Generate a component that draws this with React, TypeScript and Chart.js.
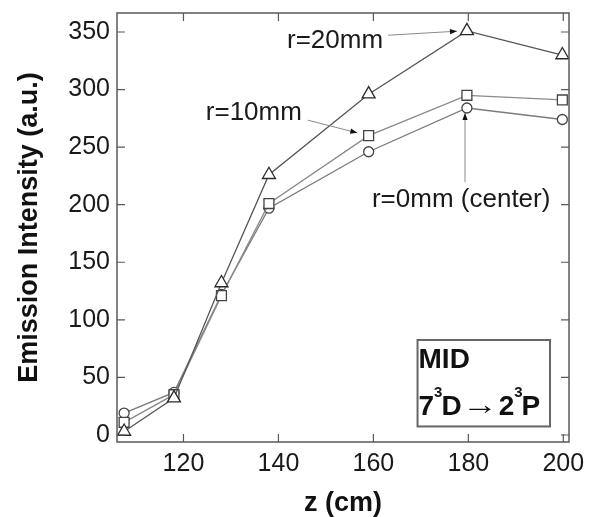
import React, { useEffect, useRef } from 'react';
import { Chart, registerables } from 'chart.js';

Chart.register(...registerables);

// ---- data ----
const zPositions = [107.5, 118, 128, 138, 159, 179.7, 199.8];
const r20Values = [3, 32, 132, 226, 296, 351, 330];
const r10Values = [11, 35, 121, 201, 260, 295, 291];
const r0Values = [19, 37, 122, 197, 246, 284, 274];
const xTickValues = [120, 140, 160, 180, 200];
const yTickValues = [0, 50, 100, 150, 200, 250, 300, 350];
const seriesLabels = ['r=20mm', 'r=10mm', 'r=0mm (center)'];
const xTitle = 'z (cm)';
const yTitle = 'Emission Intensity (a.u.)';
const boxTitle = 'MID';
// transition line: 7^3D -> 2^3P  as [text, kind]
const boxLine: [string, 'n' | 's' | 'a'][] = [
  ['7', 'n'],
  ['3', 's'],
  ['D', 'n'],
  ['\u2192', 'a'],
  ['2', 'n'],
  ['3', 's'],
  ['P', 'n'],
];

// annotation placement (data coordinates): label baseline-left, arrow from/to
const annotationPlacement = [
  { at: [141.8, 335.7], from: [163.1, 347.2], to: [177.6, 350.7] },
  { at: [124.7, 273.4], from: [146.2, 273.4], to: [156.6, 262.4] },
  { at: [159.7, 198.2], from: [179.3, 219.6], to: [179.3, 279.6] },
];
const boxPlacement = { x0: 169.3, x1: 197.2, y0: 82.5, y1: 7.4 };

const FONT = '"Liberation Sans", Arial, Helvetica, sans-serif';

function drawArrow(ctx: CanvasRenderingContext2D, x1: number, y1: number, x2: number, y2: number) {
  ctx.strokeStyle = '#8a8a8a';
  ctx.lineWidth = 1;
  ctx.beginPath();
  ctx.moveTo(x1, y1);
  ctx.lineTo(x2, y2);
  ctx.stroke();
  const a = Math.atan2(y2 - y1, x2 - x1);
  const L = 7;
  const W = 2.6;
  const c = Math.cos(a);
  const s = Math.sin(a);
  ctx.fillStyle = '#111';
  ctx.beginPath();
  ctx.moveTo(x2, y2);
  ctx.lineTo(x2 - L * c + W * s, y2 - L * s - W * c);
  ctx.lineTo(x2 - L * c - W * s, y2 - L * s + W * c);
  ctx.closePath();
  ctx.fill();
}

const decorPlugin = {
  id: 'decor',
  afterDatasetsDraw(chart: any) {
    const { ctx, chartArea: ca, scales } = chart;
    const xs = scales.x;
    const ys = scales.y;
    ctx.save();

    // frame
    ctx.strokeStyle = '#5a5a5a';
    ctx.lineWidth = 1.5;
    ctx.strokeRect(ca.left, ca.top, ca.right - ca.left, ca.bottom - ca.top);

    // inner ticks on all four sides
    const tl = 8;
    ctx.lineWidth = 1.2;
    ctx.beginPath();
    xs.ticks.forEach((t: any) => {
      const px = xs.getPixelForValue(t.value);
      ctx.moveTo(px, ca.bottom);
      ctx.lineTo(px, ca.bottom - tl);
      ctx.moveTo(px, ca.top);
      ctx.lineTo(px, ca.top + tl);
    });
    ys.ticks.forEach((t: any) => {
      const py = ys.getPixelForValue(t.value);
      ctx.moveTo(ca.left, py);
      ctx.lineTo(ca.left + tl, py);
      ctx.moveTo(ca.right, py);
      ctx.lineTo(ca.right - tl, py);
    });
    ctx.stroke();

    // annotations
    ctx.font = `26px ${FONT}`;
    ctx.textBaseline = 'alphabetic';
    ctx.textAlign = 'left';
    annotationPlacement.forEach((a, i) => {
      drawArrow(
        ctx,
        xs.getPixelForValue(a.from[0]),
        ys.getPixelForValue(a.from[1]),
        xs.getPixelForValue(a.to[0]),
        ys.getPixelForValue(a.to[1])
      );
      ctx.fillStyle = '#1a1a1a';
      ctx.fillText(seriesLabels[i], xs.getPixelForValue(a.at[0]), ys.getPixelForValue(a.at[1]));
    });

    // MID box
    const bx0 = xs.getPixelForValue(boxPlacement.x0);
    const bx1 = xs.getPixelForValue(boxPlacement.x1);
    const by0 = ys.getPixelForValue(boxPlacement.y0);
    const by1 = ys.getPixelForValue(boxPlacement.y1);
    ctx.fillStyle = '#ffffff';
    ctx.fillRect(bx0, by0, bx1 - bx0, by1 - by0);
    ctx.strokeStyle = '#666';
    ctx.lineWidth = 2;
    ctx.strokeRect(bx0, by0, bx1 - bx0, by1 - by0);

    ctx.fillStyle = '#111';
    ctx.font = `bold 28px ${FONT}`;
    ctx.fillText(boxTitle, bx0 + 1, by0 + 28.5);

    let cx = bx0 + 1;
    const base = by0 + 75;
    boxLine.forEach(([txt, kind]) => {
      if (kind === 's') {
        ctx.font = `bold 15px ${FONT}`;
        ctx.fillText(txt, cx, base - 18);
        cx += ctx.measureText(txt).width - 1;
      } else if (kind === 'a') {
        ctx.font = `bold 28px ${FONT}`;
        const w = ctx.measureText(txt).width;
        const target = 36;
        ctx.save();
        ctx.translate(cx, base - 1);
        ctx.scale(target / w, 1);
        ctx.fillText(txt, 0, 0);
        ctx.restore();
        cx += target + 1;
      } else {
        ctx.font = `bold 28px ${FONT}`;
        ctx.fillText(txt, cx, base);
        cx += ctx.measureText(txt).width;
      }
    });

    ctx.restore();
  },
};

export default function App() {
  const canvasRef = useRef<HTMLCanvasElement | null>(null);

  useEffect(() => {
    document.body.style.margin = '0';
    const canvas = canvasRef.current;
    if (!canvas) return;

    const mk = (vals: number[]) => zPositions.map((z, i) => ({ x: z, y: vals[i] }));

    const chart = new Chart(canvas, {
      type: 'line',
      data: {
        datasets: [
          {
            label: seriesLabels[0],
            data: mk(r20Values),
            borderColor: '#555',
            borderWidth: 1.3,
            pointStyle: 'triangle',
            pointRadius: 7.5,
            pointBorderColor: '#2a2a2a',
            pointBackgroundColor: '#ffffff',
            pointBorderWidth: 1.3,
          },
          {
            label: seriesLabels[1],
            data: mk(r10Values),
            borderColor: '#8a8a8a',
            borderWidth: 1.3,
            pointStyle: 'rect',
            pointRadius: 7,
            pointBorderColor: '#444',
            pointBackgroundColor: '#ffffff',
            pointBorderWidth: 1.3,
          },
          {
            label: seriesLabels[2],
            data: mk(r0Values),
            borderColor: '#7a7a7a',
            borderWidth: 1.3,
            pointStyle: 'circle',
            pointRadius: 5,
            pointBorderColor: '#444',
            pointBackgroundColor: '#ffffff',
            pointBorderWidth: 1.3,
          },
        ],
      },
      options: {
        animation: false,
        responsive: false,
        layout: { padding: { left: 8, top: 13, right: 27, bottom: 0 } },
        plugins: {
          legend: { display: false },
          tooltip: { enabled: false },
        },
        scales: {
          x: {
            type: 'linear',
            min: 106,
            max: 201.2,
            afterBuildTicks: (s: any) => {
              s.ticks = xTickValues.map((v) => ({ value: v }));
            },
            afterFit: (s: any) => {
              s.height = 75;
              s.paddingLeft = 0;
              s.paddingRight = 0;
            },
            grid: { display: false, drawTicks: false },
            border: { display: false },
            ticks: {
              color: '#1a1a1a',
              font: { family: FONT, size: 25 },
              padding: 7,
              maxRotation: 0,
              autoSkip: false,
            },
            title: {
              display: true,
              text: xTitle,
              color: '#111',
              font: { family: FONT, size: 27, weight: 'bold', lineHeight: 1 },
              padding: 0,
            },
          },
          y: {
            type: 'linear',
            min: -6.1,
            max: 366.5,
            afterBuildTicks: (s: any) => {
              s.ticks = yTickValues.map((v) => ({ value: v }));
            },
            afterFit: (s: any) => {
              s.width = 109;
              s.paddingTop = 0;
              s.paddingBottom = 0;
            },
            grid: { display: false, drawTicks: false },
            border: { display: false },
            ticks: {
              color: '#1a1a1a',
              font: { family: FONT, size: 25 },
              padding: 7,
              autoSkip: false,
            },
            title: {
              display: true,
              text: yTitle,
              color: '#111',
              font: { family: FONT, size: 27, weight: 'bold', lineHeight: 1 },
              padding: { top: 8, bottom: 0 },
            },
          },
        },
      },
      plugins: [decorPlugin],
    });

    return () => {
      chart.destroy();
    };
  }, []);

  return (
    <div style={{ position: 'absolute', left: 0, top: 0, width: 596, height: 517, background: '#fff' }}>
      <canvas ref={canvasRef} width={596} height={517} style={{ display: 'block' }} />
    </div>
  );
}
